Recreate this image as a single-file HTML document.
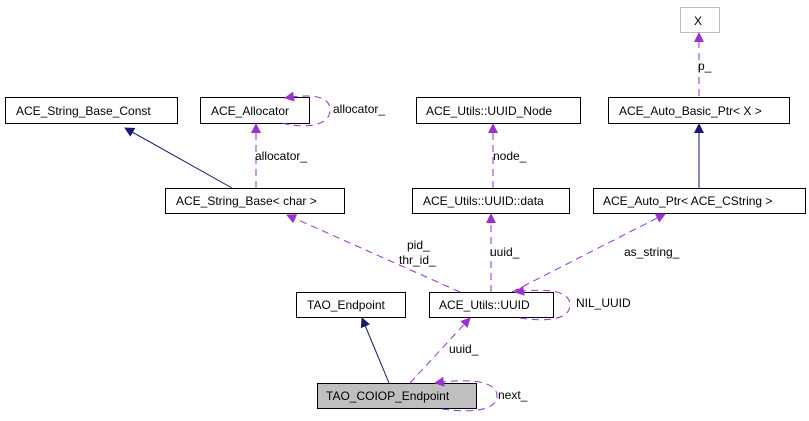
<!DOCTYPE html>
<html><head><meta charset="utf-8"><style>
html,body{margin:0;padding:0;background:#fff;}
svg{display:block;}
text{font-family:"Liberation Sans",sans-serif;font-size:12px;fill:#000;}
</style></head><body>
<svg width="809" height="421" viewBox="0 0 809 421" xmlns="http://www.w3.org/2000/svg">
<defs>
<marker id="mp" markerWidth="10" markerHeight="10" refX="9" refY="5" orient="auto" markerUnits="userSpaceOnUse"><path d="M0,0 L10,5 L0,10 z" fill="#9a32cd"/></marker>
<marker id="mb" markerWidth="10" markerHeight="10" refX="9" refY="5" orient="auto" markerUnits="userSpaceOnUse"><path d="M0,0 L10,5 L0,10 z" fill="#191970"/></marker>
</defs>
<g fill="#fff" stroke="#000" stroke-width="1">
<rect x="5.5" y="97.5" width="172" height="26"/>
<rect x="200.5" y="97.5" width="109" height="26"/>
<rect x="416.5" y="97.5" width="164" height="26"/>
<rect x="608.5" y="97.5" width="181" height="26"/>
<rect x="680.5" y="7.5" width="39" height="25" stroke="#bfbfbf"/>
<rect x="165.5" y="188.5" width="179" height="25"/>
<rect x="412.5" y="188.5" width="157" height="25"/>
<rect x="593.5" y="188.5" width="212" height="25"/>
<rect x="296.5" y="292.5" width="109" height="25"/>
<rect x="429.5" y="292.5" width="124" height="25"/>
<rect x="317.5" y="383.5" width="159" height="25" fill="#bfbfbf"/>
</g>
<g fill="none" stroke-width="1">
<path d="M232,188 L125,128" stroke="#191970" marker-end="url(#mb)"/>
<path d="M699,188 L699,124" stroke="#191970" marker-end="url(#mb)"/>
<path d="M389,383 L362,318" stroke="#191970" marker-end="url(#mb)"/>
<g stroke="#9a32cd" stroke-dasharray="7,5">
<path d="M256,188 L256,124" marker-end="url(#mp)"/>
<path d="M282,123 C300,128 330,128 330,110 C330,95 310,94 285,98" marker-end="url(#mp)"/>
<path d="M493,188 L493,124" marker-end="url(#mp)"/>
<path d="M699,96 L699,33" marker-end="url(#mp)"/>
<path d="M491,292 L491,214" marker-end="url(#mp)"/>
<path d="M460,292 L287,215" marker-end="url(#mp)"/>
<path d="M512,292 L665,214" marker-end="url(#mp)"/>
<path d="M520,318 C545,322 570,320 570,305 C570,290 545,288 515,292" marker-end="url(#mp)"/>
<path d="M410,383 L470,318" marker-end="url(#mp)"/>
<path d="M442,409 C470,413 497,411 497,396 C497,381 470,378 435,383" marker-end="url(#mp)"/>
</g>
</g>
<text x="16" y="115">ACE_String_Base_Const</text>
<text x="211" y="115">ACE_Allocator</text>
<text x="426" y="115">ACE_Utils::UUID_Node</text>
<text x="619" y="115">ACE_Auto_Basic_Ptr&lt; X &gt;</text>
<text x="694" y="25">X</text>
<text x="176" y="205">ACE_String_Base&lt; char &gt;</text>
<text x="423" y="205">ACE_Utils::UUID::data</text>
<text x="603" y="205">ACE_Auto_Ptr&lt; ACE_CString &gt;</text>
<text x="307" y="309">TAO_Endpoint</text>
<text x="439" y="309">ACE_Utils::UUID</text>
<text x="326" y="400">TAO_COIOP_Endpoint</text>
<text x="333" y="113">allocator_</text>
<text x="255" y="160">allocator_</text>
<text x="493" y="160">node_</text>
<text x="698" y="70">p_</text>
<text x="407" y="249">pid_</text>
<text x="399" y="264">thr_id_</text>
<text x="490" y="256">uuid_</text>
<text x="624" y="256">as_string_</text>
<text x="576" y="307">NIL_UUID</text>
<text x="449" y="353">uuid_</text>
<text x="498" y="399">next_</text>
</svg>
</body></html>
